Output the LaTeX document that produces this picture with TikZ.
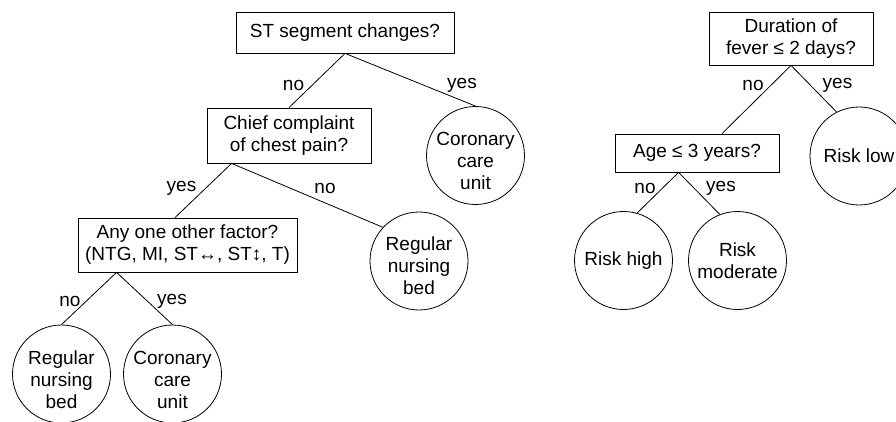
\documentclass[tikz,border=0pt]{standalone}
\usepackage{fontspec}
\setmainfont{Liberation Sans}
\begin{document}
\begin{tikzpicture}[x=1pt,y=-1pt,line width=0.8pt,
  every node/.style={font=\fontsize{19}{22}\selectfont},
  qbox/.style={draw,rectangle,inner sep=0pt,align=center},
  circ/.style={draw,circle,minimum size=98pt,inner sep=0pt},
  ctext/.style={align=center,inner sep=0pt},
  lbl/.style={inner sep=0pt}]
\clip (0,0) rectangle (896,422);
% left tree
\node[qbox,minimum width=218pt,minimum height=41pt] (root) at (345,32.5) {ST segment changes?};
\node[qbox,minimum width=164pt,minimum height=55pt] (chief) at (289,135.5) {Chief complaint\\of chest pain?};
\node[qbox,minimum width=219pt,minimum height=54pt] (factor) at (187.5,245) {Any one other factor?\\(NTG, MI, ST↔, ST↕, T)};
\node[circ] (cor1) at (475.5,155.5) {};
\node[ctext] (cor1t) at (475.5,161) {Coronary\\care\\unit};
\node[circ] (reg1) at (419,261) {};
\node[ctext] (reg1t) at (419,266) {Regular\\nursing\\bed};
\node[circ] (reg2) at (61.5,374) {};
\node[ctext] (reg2t) at (61.5,380) {Regular\\nursing\\bed};
\node[circ] (cor2) at (172.5,374) {};
\node[ctext] (cor2t) at (172.5,380) {Coronary\\care\\unit};
\draw (root.south) -- (chief.north);
\draw (root.south) -- (cor1.north);
\draw ([xshift=25pt]chief.south west) -- ([xshift=-12.5pt]factor.north);
\draw ([xshift=25pt]chief.south west) -- (reg1.137);
\draw ([xshift=39pt]factor.south west) -- (reg2.north);
\draw ([xshift=39pt]factor.south west) -- (cor2.north);
\node[lbl] (l1) at (293.5,85) {no};
\node[lbl] (l2) at (462,85) {yes};
\node[lbl] (l3) at (181.5,188) {yes};
\node[lbl] (l4) at (325,188) {no};
\node[lbl] (l5) at (70,301) {no};
\node[lbl] (l6) at (172,301) {yes};
% right tree
\node[qbox,minimum width=164pt,minimum height=53pt] (dur) at (791,38.5) {Duration of\\fever ≤ 2 days?};
\node[qbox,minimum width=164pt,minimum height=38pt] (age) at (697,153) {Age ≤ 3 years?};
\node[circ] (low) at (859,156) {Risk low};
\node[circ] (high) at (623.5,260.5) {Risk high};
\node[circ,align=center] (mod) at (737.5,260.5) {Risk\\moderate};
\draw (dur.south) -- ([xshift=25pt]age.north);
\draw (dur.south) -- (low.117);
\draw ([xshift=64pt]age.south west) -- (high.74);
\draw ([xshift=64pt]age.south west) -- (mod.111);
\node[lbl] (r1) at (753,85) {no};
\node[lbl] (r2) at (837.5,85) {yes};
\node[lbl] (r3) at (645,188) {no};
\node[lbl] (r4) at (721,188) {yes};
\end{tikzpicture}
\end{document}
